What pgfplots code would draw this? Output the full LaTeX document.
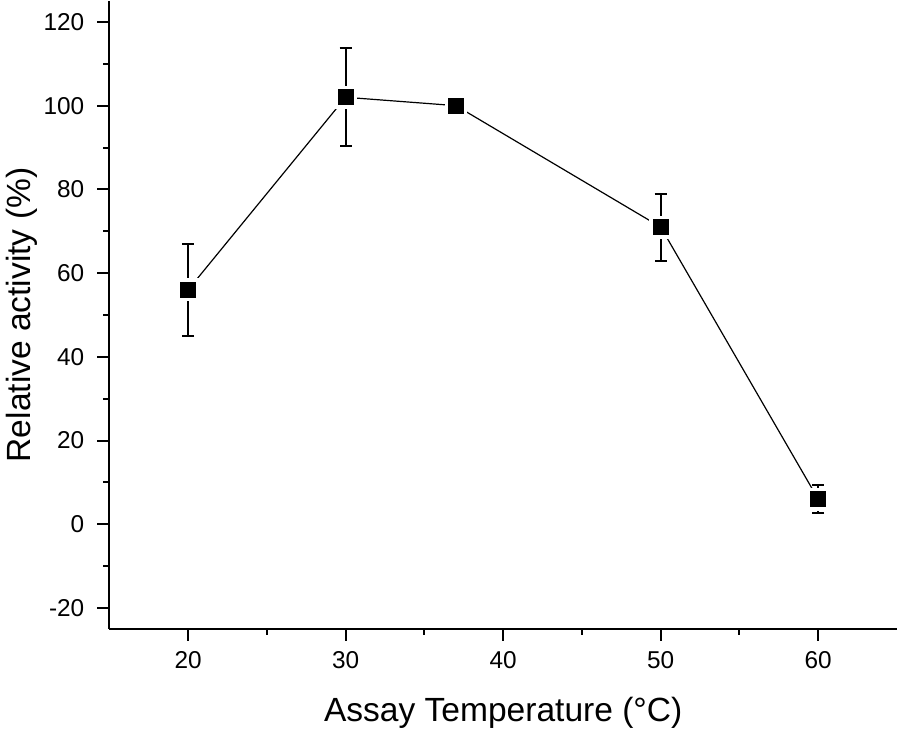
\documentclass[border=0pt]{standalone}
\usepackage{pgfplots}
\pgfplotsset{compat=1.18}
\usepackage{fontspec}
\setmainfont{Liberation Sans}
\begin{document}
\begin{tikzpicture}
\begin{axis}[
  scale only axis,
  width=394.5pt, height=314.5pt,
  xmin=15, xmax=65, ymin=-25, ymax=125,
  axis x line*=bottom, axis y line*=left,
  axis line style={line width=1pt, -},
  xtick={20,30,40,50,60}, ytick={-20,0,20,40,60,80,100,120},
  minor x tick num=1, minor y tick num=1,
  tick align=outside,
  major tick length=6pt, minor tick length=3pt,
  every tick/.style={black, line width=1pt},
  tick label style={font=\fontsize{12.2}{14}\selectfont},
  xticklabel style={yshift=-2pt},
  yticklabel style={xshift=-3pt},
  /pgf/number format/assume math mode=true,
  xlabel={Assay Temperature (°C)},
  ylabel={Relative activity (\%)},
  label style={font=\fontsize{16.8}{19}\selectfont},
  xlabel style={yshift=-7pt},
  ylabel style={yshift=-4pt},
  clip=false,
]
\addplot[black, line width=0.6pt] coordinates {(20,56.0) (30,102.0) (37,100.0) (50,71.0) (60,6.0)};
\addplot[only marks, mark=square*, mark size=5.5pt, white, mark options={draw=white, fill=white}] coordinates {(20,56.0) (30,102.0) (37,100.0) (50,71.0) (60,6.0)};
\addplot[only marks, black, mark=square*, mark size=3.7pt,
  error bars/.cd, y dir=both, y explicit,
  error bar style={line width=1pt, black},
  error mark options={rotate=90, mark size=3pt, line width=1pt, black}]
  coordinates {
  (20,56.0) +- (0,11.0)
  (30,102.0) +- (0,11.7)
  (37,100.0) +- (0,0)
  (50,71.0) +- (0,8.0)
  (60,6.0) +- (0,3.4)
  };
\end{axis}
\end{tikzpicture}
\end{document}
